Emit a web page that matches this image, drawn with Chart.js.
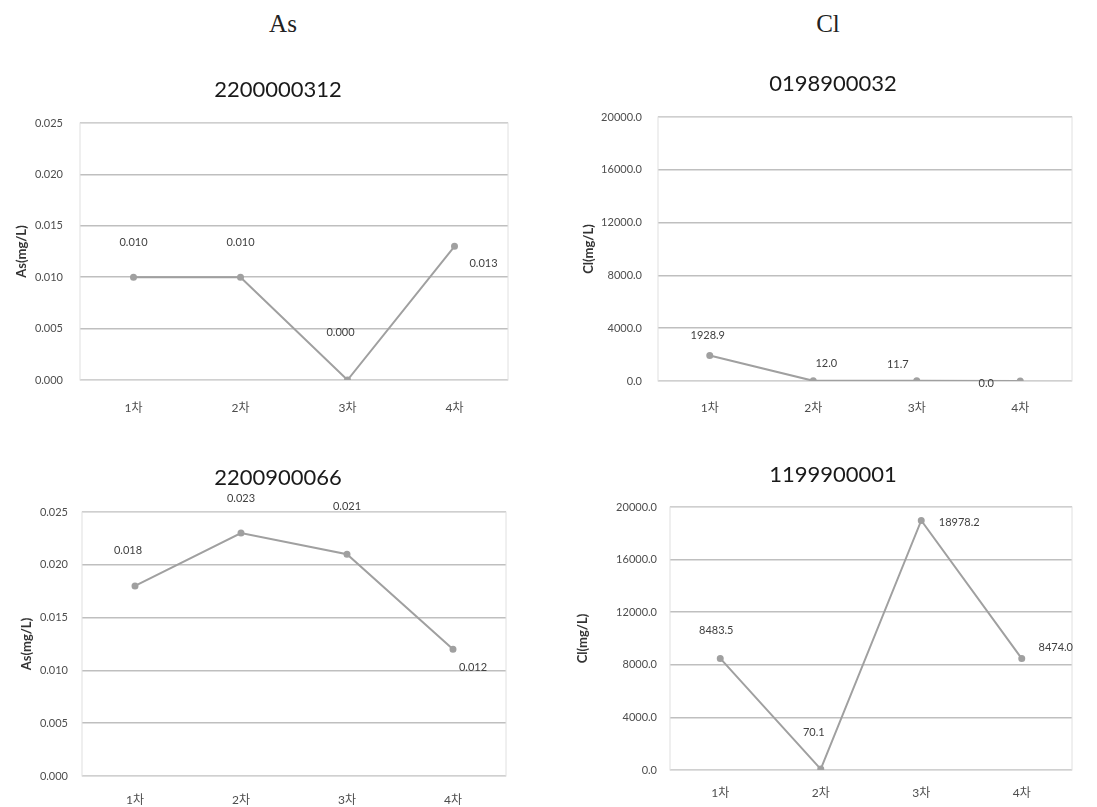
<!DOCTYPE html>
<html>
<head>
<meta charset="utf-8">
<script src="https://cdn.jsdelivr.net/npm/chart.js@4/dist/chart.umd.min.js"></script>
<style>
body { margin:0; background:#fff; width:1097px; height:807px; position:relative; overflow:hidden; }
.head { position:absolute; top:10px; width:200px; text-align:center; font-family:'Liberation Serif', serif; font-size:25px; color:#222; }
.box { position:absolute; }
</style>
</head>
<body>
<div class="head" style="left:183px">As</div>
<div class="head" style="left:728px">Cl</div>
<div class="box" style="left:0;top:60px;width:556px;height:370px"><canvas id="c1"></canvas></div>
<div class="box" style="left:570px;top:60px;width:526px;height:370px"><canvas id="c2"></canvas></div>
<div class="box" style="left:0;top:440px;width:556px;height:367px"><canvas id="c3"></canvas></div>
<div class="box" style="left:570px;top:440px;width:526px;height:367px"><canvas id="c4"></canvas></div>
<script>
// 조사 차수
const categories = ['1차', '2차', '3차', '4차'];
// As (mg/L)
const as2200000312 = [0.010, 0.010, 0.000, 0.013];
const as2200900066 = [0.018, 0.023, 0.021, 0.012];
// Cl (mg/L)
const cl0198900032 = [1928.9, 12.0, 11.7, 0.0];
const cl1199900001 = [8483.5, 70.1, 18978.2, 8474.0];
// 축 눈금
const asTicks = [0, 0.005, 0.010, 0.015, 0.020, 0.025];
const clTicks = [0, 4000, 8000, 12000, 16000, 20000];

const FONT = 'Lato, "Noto Sans CJK KR", sans-serif';

// 값 라벨
const pointLabels = {
    id: 'pointLabels',
    afterDatasetsDraw(chart, args, opts) {
        const ctx = chart.ctx;
        const meta = chart.getDatasetMeta(0);
        const data = chart.data.datasets[0].data;
        ctx.save();
        ctx.font = '11px ' + FONT;
        ctx.fillStyle = '#404040';
        ctx.textAlign = 'center';
        ctx.textBaseline = 'middle';
        meta.data.forEach((pt, i) => {
            const off = opts.offsets[i];
            ctx.fillText(data[i].toFixed(opts.decimals), pt.x + off[0], pt.y + off[1]);
        });
        ctx.restore();
    }
};

// 플롯 테두리
const plotFrame = {
    id: 'plotFrame',
    beforeDatasetsDraw(chart) {
        const a = chart.chartArea;
        const ctx = chart.ctx;
        ctx.save();
        ctx.strokeStyle = '#e0e0e0';
        ctx.lineWidth = 1;
        ctx.strokeRect(a.left, a.top, a.right - a.left, a.bottom - a.top);
        ctx.restore();
    }
};

function makeChart(id, title, yTitle, values, ticks, decimals, g) {
    new Chart(id, {
        type: 'line',
        data: {
            labels: categories,
            datasets: [{
                data: values,
                borderColor: '#a0a0a0',
                backgroundColor: '#a0a0a0',
                borderWidth: 2,
                pointRadius: 2.5,
                pointHoverRadius: 2.5,
                tension: 0
            }]
        },
        options: {
            responsive: true,
            maintainAspectRatio: false,
            animation: false,
            events: [],
            layout: { padding: 0 },
            plugins: {
                legend: { display: false },
                tooltip: { enabled: false },
                title: {
                    display: true,
                    text: title,
                    color: '#1a1a1a',
                    font: { family: FONT, size: 22, weight: 'normal', lineHeight: 1.2 },
                    padding: { top: g.titleTop, bottom: g.titleBottom }
                },
                pointLabels: { offsets: g.offsets, decimals: decimals }
            },
            scales: {
                x: {
                    offset: true,
                    grid: { display: false, drawTicks: false },
                    border: { display: false },
                    ticks: { color: '#4d4d4d', font: { family: FONT, size: 12 }, padding: g.xPad },
                    afterFit: s => { s.height = g.xHeight; }
                },
                y: {
                    min: ticks[0],
                    max: ticks[ticks.length - 1],
                    afterBuildTicks: s => { s.ticks = ticks.map(v => ({ value: v })); },
                    grid: { color: '#bfbfbf', lineWidth: 1.5, drawTicks: false },
                    border: { display: false },
                    ticks: {
                        color: '#4d4d4d',
                        font: { family: FONT, size: 11 },
                        padding: g.yPad,
                        callback: v => Number(v).toFixed(decimals)
                    },
                    title: {
                        display: true,
                        text: yTitle,
                        color: '#333',
                        font: { family: FONT, size: 13, weight: 'bold', lineHeight: 1.2 },
                        padding: { top: g.yTitlePad, bottom: 0 }
                    },
                    afterFit: s => { s.width = g.yWidth; }
                },
                // 오른쪽 여백 (제목 위치 맞춤)
                spacer: {
                    type: 'linear',
                    position: 'right',
                    display: true,
                    grid: { display: false, drawTicks: false },
                    border: { display: false },
                    ticks: { display: false },
                    afterFit: s => { s.width = g.rightGap; }
                }
            }
        },
        plugins: [plotFrame, pointLabels]
    });
}

makeChart('c1', '2200000312', 'As(mg/L)', as2200000312, asTicks, 3, {
    titleTop: 16.8, titleBottom: 19.8, xHeight: 50, xPad: 21,
    yWidth: 80, yPad: 17, yTitlePad: 14.2, rightGap: 48,
    offsets: [[0, -35], [0, -35], [-7, -48], [29, 17]]
});
makeChart('c2', '0198900032', 'Cl(mg/L)', cl0198900032, clTicks, 1, {
    titleTop: 10.8, titleBottom: 19.8, xHeight: 49, xPad: 20,
    yWidth: 88, yPad: 16, yTitlePad: 11.2, rightGap: 24,
    offsets: [[-2, -20], [13, -17], [-19, -16], [-34, 2]]
});
makeChart('c3', '2200900066', 'As(mg/L)', as2200900066, asTicks, 3, {
    titleTop: 24.8, titleBottom: 20.8, xHeight: 31, xPad: 17,
    yWidth: 82, yPad: 14, yTitlePad: 19.2, rightGap: 50,
    offsets: [[-7, -35], [0, -35], [0, -48], [20, 18]]
});
makeChart('c4', '1199900001', 'Cl(mg/L)', cl1199900001, clTicks, 1, {
    titleTop: 21.8, titleBottom: 18.8, xHeight: 37, xPad: 16,
    yWidth: 100, yPad: 13, yTitlePad: 5.2, rightGap: 24,
    offsets: [[-4, -28], [-7, -37], [38, 2], [34, -11]]
});
</script>
</body>
</html>
